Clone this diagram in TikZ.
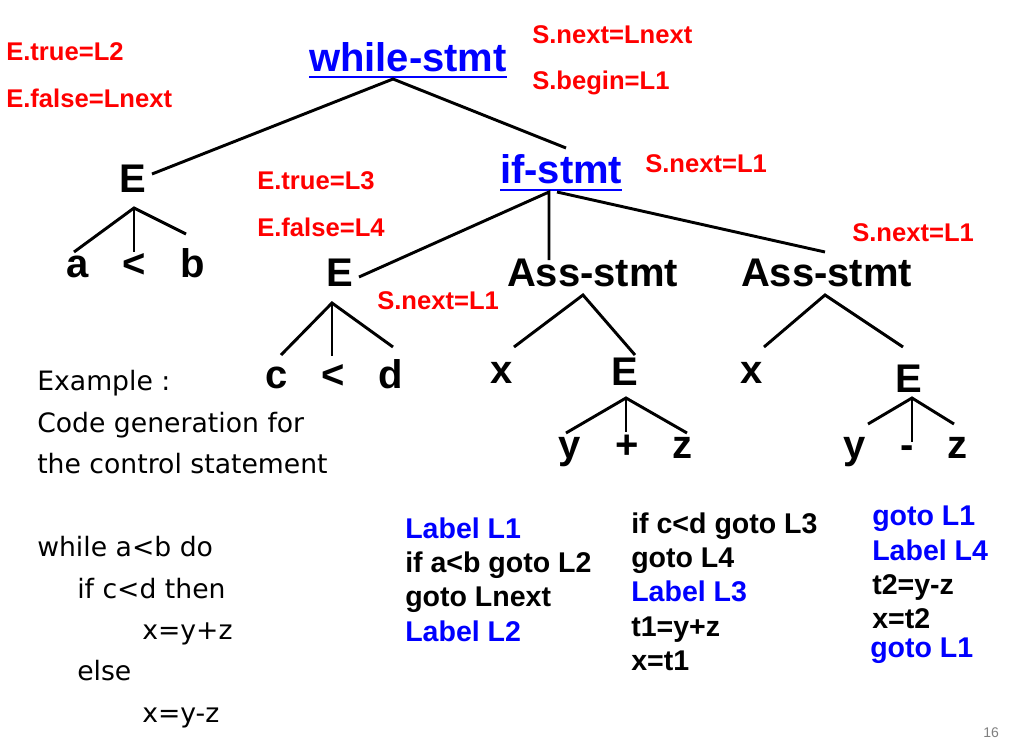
\documentclass[tikz,border=0pt]{standalone}
\usepackage{fontspec}
\setmainfont{Liberation Sans}
\newfontfamily\comicfont{DejaVu Sans}
\begin{document}
\begin{tikzpicture}[x=0.75pt,y=-0.75pt]
\tikzset{
 tn/.style={font=\fontsize{30}{36}\selectfont\bfseries, inner sep=0pt, outer sep=0pt, anchor=base},
 tnw/.style={tn, anchor=base west},
 lab/.style={font=\fontsize{19.2}{23}\selectfont\bfseries, text=red, inner sep=0pt, anchor=base west},
 code/.style={font=\fontsize{21.4}{25}\selectfont\bfseries, inner sep=0pt, anchor=base west},
 codeb/.style={code, text=blue},
 comic/.style={font=\comicfont\fontsize{20}{24}\selectfont, inner sep=0pt, anchor=base west},
 edge/.style={line width=2.2pt},
 uline/.style={blue, line width=1.5pt}
}
\useasboundingbox[fill=white] (0,0) rectangle (1026,740);

% tree nodes
\node[tnw, text=blue] (ws) at (309,71) {while-stmt};
\draw[uline] ([yshift=-4.5pt]ws.base west) -- ([yshift=-4.5pt]ws.base east);
\node[tnw, text=blue] (ifs) at (500,183) {if-stmt};
\draw[uline] ([yshift=-5.25pt]ifs.base west) -- ([yshift=-5.25pt]ifs.base east);
\node[tn] (e1) at (132.5,192) {E};
\node[tn] (a1) at (77.5,277) {a};
\node[tn] (lt1) at (134.5,277) {<};
\node[tn] (b1) at (192.5,277) {b};
\node[tn] (e2) at (339.5,286) {E};
\node[tn] (c2) at (277,388) {c};
\node[tn] (lt2) at (333,388) {<};
\node[tn] (d2) at (390.5,388) {d};
\node[tnw] (as1) at (507,286) {Ass-stmt};
\node[tnw] (as2) at (741,286) {Ass-stmt};
\node[tn] (x1) at (502,383) {x};
\node[tn] (e3) at (624.5,385) {E};
\node[tn] (y3) at (570,458) {y};
\node[tn] (p3) at (627,458) {+};
\node[tn] (z3) at (682,458) {z};
\node[tn] (x2) at (752,383) {x};
\node[tn] (e4) at (909,392) {E};
\node[tn] (y4) at (855,458) {y};
\node[tn] (m4) at (907.5,458) {-};
\node[tn] (z4) at (957,458) {z};

% attribute labels
\node[lab] (l1) at (6,60) {E.true=L2};
\node[lab] (l2) at (6,107) {E.false=Lnext};
\node[lab] (l3) at (532,43) {S.next=Lnext};
\node[lab] (l4) at (532,89) {S.begin=L1};
\node[lab] (l5) at (257,189) {E.true=L3};
\node[lab] (l6) at (257,236) {E.false=L4};
\node[lab] (l7) at (645,172) {S.next=L1};
\node[lab] (l8) at (852,241) {S.next=L1};
\node[lab] (l9) at (377,309) {S.next=L1};

% connector points
\coordinate (ws-j) at (393,79);
\coordinate (e1-t) at (152,174);
\coordinate (if-t) at (566,148);
\coordinate (e1-j) at (134,208);
\coordinate (a1-t) at (74,252);
\coordinate (lt1-t) at (134,252);
\coordinate (b1-t) at (186,234);
\coordinate (if-j) at (549,192);
\coordinate (if-j2) at (557,192);
\coordinate (e2-t) at (359,277);
\coordinate (as1-t) at (549,260);
\coordinate (as2-t) at (825,252);
\coordinate (e2-j) at (332,303);
\coordinate (c2-t) at (281,355);
\coordinate (lt2-t) at (332,356);
\coordinate (d2-t) at (393,347);
\coordinate (as1-j) at (583,295);
\coordinate (x1-t) at (514,347);
\coordinate (e3-t) at (635,355);
\coordinate (e3-j) at (626,398);
\coordinate (y3-t) at (566,433);
\coordinate (p3-t) at (626,432);
\coordinate (z3-t) at (687,433);
\coordinate (as2-j) at (825,295);
\coordinate (x2-t) at (764,347);
\coordinate (e4-t) at (903,347);
\coordinate (e4-j) at (912,398);
\coordinate (y4-t) at (868,424);
\coordinate (m4-t) at (912,442);
\coordinate (z4-t) at (954,424);

% connectors
\draw[edge] (e1-t) -- (ws-j) -- (if-t);
\draw[edge] (a1-t) -- (e1-j) -- (b1-t);
\draw[edge] (e1-j) -- (lt1-t);
\draw[edge] (e2-t) -- (if-j) -- (as1-t);
\draw[edge] (if-j2) -- (as2-t);
\draw[edge] (c2-t) -- (e2-j) -- (d2-t);
\draw[edge] (e2-j) -- (lt2-t);
\draw[edge] (x1-t) -- (as1-j) -- (e3-t);
\draw[edge] (y3-t) -- (e3-j) -- (z3-t);
\draw[edge] (e3-j) -- (p3-t);
\draw[edge] (x2-t) -- (as2-j) -- (e4-t);
\draw[edge] (y4-t) -- (e4-j) -- (z4-t);
\draw[edge] (e4-j) -- (m4-t);

% example text
\node[comic] (ex1) at (37,390) {Example :};
\node[comic] (ex2) at (37,432) {Code generation for};
\node[comic] (ex3) at (37,473) {the control statement};
\node[comic] (pr1) at (37,556) {while a<b do};
\node[comic] (pr2) at (77,598) {if c<d then};
\node[comic] (pr3) at (142,639) {x=y+z};
\node[comic] (pr4) at (77,680) {else};
\node[comic] (pr5) at (142,722) {x=y-z};

% generated code
\node[codeb] (c11) at (405,538) {Label L1};
\node[code] (c12) at (405,572) {if a<b goto L2};
\node[code] (c13) at (405,606) {goto Lnext};
\node[codeb] (c14) at (405,641) {Label L2};
\node[code] (c21) at (631,533) {if c<d goto L3};
\node[code] (c22) at (631,567) {goto L4};
\node[codeb] (c23) at (631,601) {Label L3};
\node[code] (c24) at (631,636) {t1=y+z};
\node[code] (c25) at (631,670) {x=t1};
\node[codeb] (c31) at (872,525) {goto L1};
\node[codeb] (c32) at (872,560) {Label L4};
\node[code] (c33) at (872,594) {t2=y-z};
\node[code] (c34) at (872,628) {x=t2};
\node[codeb] (c35) at (870,657) {goto L1};

\node[font=\fontsize{10.5}{12}\selectfont, text=gray, inner sep=0pt, anchor=base west] (pg) at (983,737) {16};
\end{tikzpicture}
\end{document}
